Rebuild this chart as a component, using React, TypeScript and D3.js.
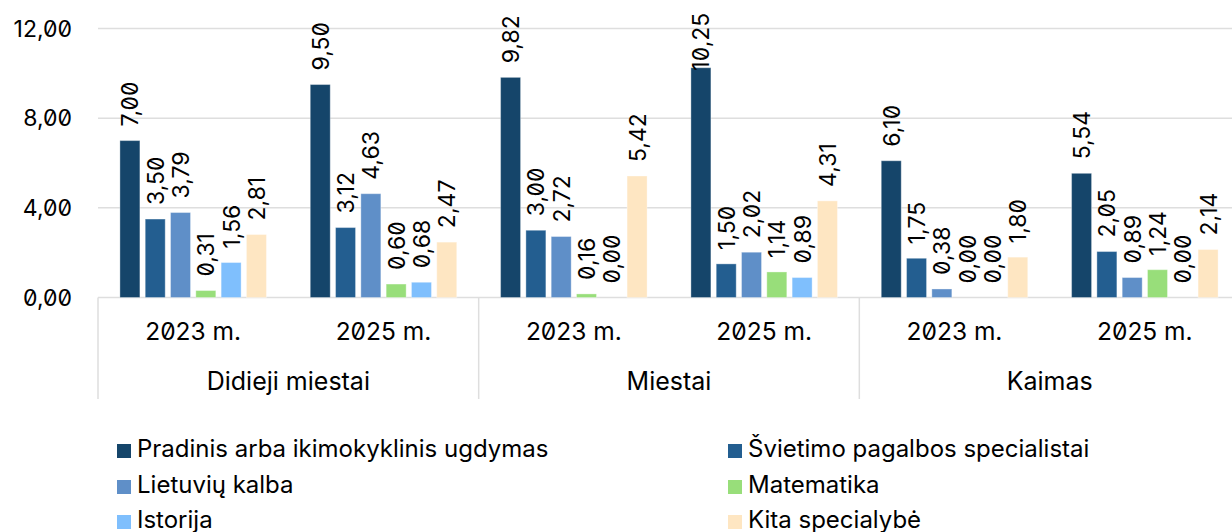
import React from "react";
import * as d3 from "d3";

const groups = ["Didieji miestai", "Miestai", "Kaimas"];
const years = ["2023 m.", "2025 m."];
const seriesNames = [
  "Pradinis arba ikimokyklinis ugdymas",
  "Švietimo pagalbos specialistai",
  "Lietuvių kalba",
  "Matematika",
  "Istorija",
  "Kita specialybė",
];
const seriesColors = ["#15456a", "#235e90", "#5f8fc8", "#98de7a", "#7fbffd", "#fee6c2"];
// values per subgroup (group × year), in series order
const didiejiValues = [
  [7.0, 3.5, 3.79, 0.31, 1.56, 2.81],
  [9.5, 3.12, 4.63, 0.6, 0.68, 2.47],
];
const miestaiValues = [
  [9.82, 3.0, 2.72, 0.16, 0.0, 5.42],
  [10.25, 1.5, 2.02, 1.14, 0.89, 4.31],
];
const kaimasValues = [
  [6.1, 1.75, 0.38, 0.0, 0.0, 1.8],
  [5.54, 2.05, 0.89, 1.24, 0.0, 2.14],
];
const yTicks = [0, 4, 8, 12];

const W = 1232;
const H = 532;
const FONT = "Inter, 'Noto Sans', sans-serif";
const FS = 23;

export default function App() {
  const allValues = [didiejiValues, miestaiValues, kaimasValues];
  const subKeys: string[] = [];
  groups.forEach((g, gi) => years.forEach((y, yi) => subKeys.push(`${gi}-${yi}`)));

  const left = 98;
  const right = 1240;
  const y = d3.scaleLinear().domain([0, 12]).range([297.5, 28.5]);
  const xg = d3.scaleBand<string>().domain(groups).range([left, right]);
  const x0 = d3.scaleBand<string>().domain(subKeys).range([left, right]);
  const x1 = d3
    .scaleBand<number>()
    .domain(d3.range(seriesNames.length))
    .range([0, x0.bandwidth()])
    .paddingInner(0.21)
    .paddingOuter(0.866);

  const fmt = (v: number) => v.toFixed(2).replace(".", ",");
  const gridColor = "#dedede";
  const textStyle: React.CSSProperties = { fontFeatureSettings: '"zero" 1' };

  const bars: React.ReactNode[] = [];
  const labels: React.ReactNode[] = [];
  allValues.forEach((gv, gi) => {
    gv.forEach((vals, yi) => {
      const key = `${gi}-${yi}`;
      const base = x0(key)!;
      vals.forEach((v, si) => {
        const bx = base + x1(si)!;
        const bw = x1.bandwidth();
        const top = y(v);
        if (v > 0) {
          bars.push(
            <rect
              key={`b-${key}-${si}`}
              x={bx}
              y={top}
              width={bw}
              height={y(0) - top}
              fill={seriesColors[si]}
              stroke="#ffffff"
              strokeOpacity={0.35}
              strokeWidth={1}
            />
          );
        }
        const txt = fmt(v);
        const estLen = (txt.length - 1) * 0.6 * FS + 0.28 * FS;
        let start = top - 14;
        if (start - estLen < 9) start = 9 + estLen;
        const cx = bx + bw / 2 + 8.5;
        labels.push(
          <text
            key={`l-${key}-${si}`}
            transform={`translate(${cx},${start}) rotate(-90)`}
            fontSize={FS}
            fill="#000"
            style={textStyle}
          >
            {txt}
          </text>
        );
      });
    });
  });

  const legendRows = [457, 493, 528];
  const legendCols = [
    { mx: 117, tx: 137 },
    { mx: 728, tx: 748 },
  ];

  return (
    <svg
      width={W}
      height={H}
      style={{ position: "fixed", left: 0, top: 0, background: "#fff" }}
      fontFamily={FONT}
    >
      <rect x={0} y={0} width={W} height={H} fill="#fff" />
      {yTicks.map((t) => (
        <g key={`t${t}`}>
          <line x1={left} x2={W} y1={y(t)} y2={y(t)} stroke={gridColor} strokeWidth={1.5} />
          <text
            x={72}
            y={y(t)}
            dy="0.36em"
            textAnchor="end"
            fontSize={FS}
            fill="#000"
            style={textStyle}
          >
            {fmt(t)}
          </text>
        </g>
      ))}
      {groups.map((g, gi) => {
        const gx = xg(g)!;
        return (
          <g key={`sep${gi}`}>
            <line x1={gx} x2={gx} y1={y(0)} y2={399} stroke={gridColor} strokeWidth={1.5} />
            {gi === groups.length - 1 && (
              <line
                x1={gx + xg.bandwidth()}
                x2={gx + xg.bandwidth()}
                y1={y(0)}
                y2={399}
                stroke={gridColor}
                strokeWidth={1.5}
              />
            )}
            <text
              x={gx + xg.bandwidth() / 2}
              y={390}
              textAnchor="middle"
              fontSize={25}
              fill="#000"
              style={textStyle}
            >
              {g}
            </text>
          </g>
        );
      })}
      {subKeys.map((k) => {
        const yi = +k.split("-")[1];
        return (
          <text
            key={`sk${k}`}
            x={x0(k)! + x0.bandwidth() / 2}
            y={340}
            textAnchor="middle"
            fontSize={24.5}
            fill="#000"
            style={textStyle}
          >
            {years[yi]}
          </text>
        );
      })}
      {bars}
      {labels}
      {seriesNames.map((s, i) => {
        const row = Math.floor(i / 2);
        const col = i % 2;
        const by = legendRows[row];
        return (
          <g key={`lg${i}`}>
            <rect
              x={legendCols[col].mx}
              y={by - 13}
              width={14}
              height={14}
              fill={seriesColors[i]}
            />
            <text x={legendCols[col].tx} y={by} fontSize={24} fill="#000" style={textStyle}>
              {s}
            </text>
          </g>
        );
      })}
    </svg>
  );
}
